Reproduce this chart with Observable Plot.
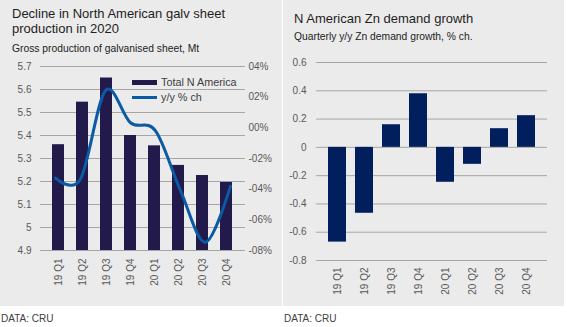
<!DOCTYPE html>
<html>
<head>
<meta charset="utf-8">
<script src="https://cdn.jsdelivr.net/npm/d3@7"></script>
<script src="https://cdn.jsdelivr.net/npm/@observablehq/plot@0.6"></script>
<style>
  html, body { margin: 0; padding: 0; background: #ffffff; }
  body { width: 567px; height: 327px; position: relative; overflow: hidden; font-family: "Liberation Sans", Arial, sans-serif; }
  .panel { position: absolute; top: 0; height: 306px; background: #ebebeb; }
  .title { position: absolute; font-size: 13px; color: #1e1e1e; line-height: 14.7px; white-space: nowrap; }
  .sub { position: absolute; font-size: 10.3px; color: #222; white-space: nowrap; }
  .plot { position: absolute; left: 0; }
  .caption { position: absolute; top: 313px; font-size: 10px; color: #404040; white-space: nowrap; }
  .legend { position: absolute; font-size: 10.8px; color: #404040; white-space: nowrap; }
  .legend .row { position: absolute; left: 0; display: flex; align-items: center; }
  .sw { display: inline-block; width: 25px; margin-right: 4px; }
</style>
</head>
<body>
<div class="panel" id="left" style="left:0;width:282px;">
  <div class="title" style="left:12px;top:7px;">Decline in North American galv sheet<br>production in 2020</div>
  <div class="sub" style="left:12px;top:43px;">Gross production of galvanised sheet, Mt</div>
</div>
<div class="panel" id="right" style="left:283px;width:281px;">
  <div class="title" style="left:11px;top:12px;">N American Zn demand growth</div>
  <div class="sub" style="left:11px;top:31px;">Quarterly y/y Zn demand growth, % ch.</div>
</div>
<div class="caption" style="left:1px;">DATA: CRU</div>
<div class="caption" style="left:284px;">DATA: CRU</div>
<script>
// ---- data ----
const quarters = ["19 Q1", "19 Q2", "19 Q3", "19 Q4", "20 Q1", "20 Q2", "20 Q3", "20 Q4"];
const galvProduction = [5.36, 5.545, 5.65, 5.40, 5.355, 5.27, 5.226, 5.196];
const galvYoY = [-3.28, -3.33, 2.43, 0.33, -0.2, -4.1, -7.46, -3.8];
const znDemand = [-0.67, -0.466, 0.16, 0.379, -0.247, -0.12, 0.132, 0.224];
const prodTicks = [4.9, 5.0, 5.1, 5.2, 5.3, 5.4, 5.5, 5.6, 5.7];
const pctTicks = [-8, -6, -4, -2, 0, 2, 4];
const znTicks = [-0.8, -0.6, -0.4, -0.2, 0, 0.2, 0.4, 0.6];
const legendLabels = ["Total N America", "y/y % ch"];

const BAR_L = "#211a4a";
const LINE = "#0b5aa6";
const BAR_R = "#001f5c";
const GRID = "#a6a6a6";
const FONT = "'Liberation Sans', Arial, sans-serif";

const prodRows = quarters.map((q, i) => ({q, v: galvProduction[i]}));
const yoyRows = quarters.map((q, i) => ({q, v: galvYoY[i]}));
const znRows = quarters.map((q, i) => ({q, v: znDemand[i]}));

const baseStyle = {background: "transparent", fontFamily: FONT, fontSize: "10px", color: "#595959", overflow: "visible"};
const fmtNum = d => String(+d.toFixed(1));
const fmtPct = d => (d < 0 ? "-" : "") + String(Math.abs(d)).padStart(2, "0") + "%";

// left panel: bars + left axis
const leftGeom = {width: 282, height: 250, marginTop: 10, marginBottom: 56, marginLeft: 40, marginRight: 37};
const leftBars = Plot.plot({
  ...leftGeom,
  style: baseStyle,
  x: {domain: quarters, padding: 0.49, axis: null},
  y: {domain: [4.9, 5.7], axis: null},
  marks: [
    Plot.gridY(prodTicks, {stroke: GRID, strokeOpacity: 1, strokeWidth: 1}),
    Plot.barY(prodRows, {x: "q", y1: 4.9, y2: "v", fill: BAR_L}),
    Plot.axisY(prodTicks, {anchor: "left", tickSize: 0, tickPadding: 9, tickFormat: fmtNum, label: null}),
    Plot.axisX({anchor: "bottom", tickSize: 0, tickPadding: 8, tickRotate: -90, label: null})
  ]
});
leftBars.classList.add("plot");
leftBars.style.top = "56px";
document.getElementById("left").appendChild(leftBars);

// left panel: line + right axis
const leftLine = Plot.plot({
  ...leftGeom,
  style: baseStyle,
  x: {domain: quarters, padding: 0.49, axis: null},
  y: {domain: [-8, 4], axis: null},
  marks: [
    Plot.line(yoyRows, {x: "q", y: "v", stroke: LINE, strokeWidth: 3, curve: "cardinal", tension: 0}),
    Plot.axisY(pctTicks, {anchor: "right", tickSize: 0, tickPadding: 3, tickFormat: fmtPct, label: null})
  ]
});
leftLine.classList.add("plot");
leftLine.style.top = "56px";
document.getElementById("left").appendChild(leftLine);

// legend
const legend = document.createElement("div");
legend.className = "legend";
legend.style.left = "132px";
legend.style.top = "76px";
legend.innerHTML =
  `<div class="row" style="top:0px"><span class="sw" style="height:5px;background:${BAR_L}"></span>${legendLabels[0]}</div>` +
  `<div class="row" style="top:15px"><span class="sw" style="height:3px;background:${LINE}"></span>${legendLabels[1]}</div>`;
document.getElementById("left").appendChild(legend);

// right panel
const rightPlot = Plot.plot({
  width: 281, height: 254, marginTop: 10, marginBottom: 46, marginLeft: 33, marginRight: 17,
  style: baseStyle,
  x: {domain: quarters, padding: 0.33, axis: null},
  y: {domain: [-0.8, 0.6], axis: null},
  marks: [
    Plot.gridY(znTicks, {stroke: GRID, strokeOpacity: 1, strokeWidth: 1}),
    Plot.barY(znRows, {x: "q", y: "v", fill: BAR_R}),
    Plot.axisY(znTicks, {anchor: "left", tickSize: 0, tickPadding: 10, tickFormat: fmtNum, label: null}),
    Plot.axisX({anchor: "bottom", tickSize: 0, tickPadding: 7, tickRotate: -90, label: null})
  ]
});
rightPlot.classList.add("plot");
rightPlot.style.top = "52px";
document.getElementById("right").appendChild(rightPlot);
</script>
</body>
</html>
